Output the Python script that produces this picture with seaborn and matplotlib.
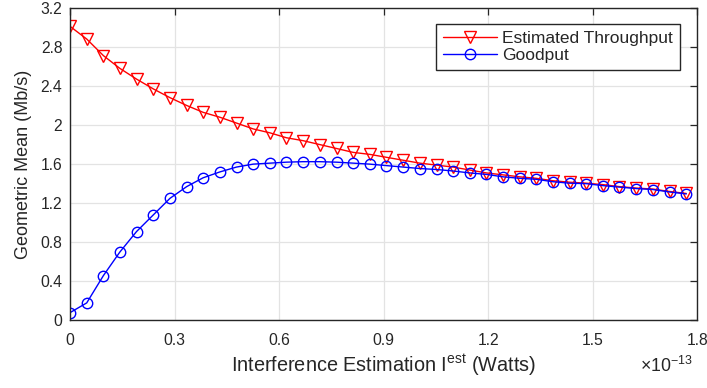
import numpy as np
import pandas as pd
import matplotlib
matplotlib.use("Agg")
import matplotlib.pyplot as plt
import seaborn as sns
from matplotlib.ticker import FuncFormatter

# Interference estimation (units of 1e-13 W)
x_vals = [0.000, 0.048, 0.096, 0.143, 0.191, 0.239, 0.287, 0.335, 0.382, 0.430,
          0.478, 0.526, 0.574, 0.621, 0.669, 0.717, 0.765, 0.813, 0.860, 0.908,
          0.956, 1.004, 1.052, 1.099, 1.147, 1.195, 1.243, 1.291, 1.338, 1.386,
          1.434, 1.482, 1.530, 1.577, 1.625, 1.673, 1.721, 1.769]
est_throughput = [3.01, 2.88, 2.71, 2.58, 2.47, 2.37, 2.28, 2.20, 2.13, 2.08,
                  2.02, 1.96, 1.92, 1.87, 1.84, 1.80, 1.76, 1.72, 1.70, 1.67,
                  1.64, 1.61, 1.59, 1.57, 1.54, 1.51, 1.49, 1.47, 1.455, 1.43,
                  1.415, 1.405, 1.39, 1.37, 1.355, 1.345, 1.32, 1.30]
goodput = [0.08, 0.18, 0.46, 0.70, 0.91, 1.08, 1.25, 1.37, 1.46, 1.52,
           1.57, 1.60, 1.61, 1.62, 1.625, 1.625, 1.62, 1.61, 1.60, 1.585,
           1.57, 1.555, 1.545, 1.53, 1.51, 1.495, 1.47, 1.455, 1.445, 1.42,
           1.405, 1.40, 1.38, 1.365, 1.35, 1.34, 1.315, 1.295]
x_ticks = [0, 0.3, 0.6, 0.9, 1.2, 1.5, 1.8]
y_ticks = [0, 0.4, 0.8, 1.2, 1.6, 2.0, 2.4, 2.8, 3.2]

sns.set_style("white")
plt.rcParams['font.family'] = ['Liberation Sans', 'DejaVu Sans']
plt.rcParams['mathtext.fontset'] = 'custom'
plt.rcParams['mathtext.rm'] = 'Liberation Sans'
plt.rcParams['mathtext.it'] = 'Liberation Sans'

fig = plt.figure(figsize=(7.07, 3.88), dpi=100)
ax = fig.add_axes([0.099, 0.174, 0.887, 0.806])

df = pd.DataFrame({"x": x_vals, "est": est_throughput, "good": goodput})

sns.lineplot(data=df, x="x", y="est", ax=ax, color="#ff0000", lw=1.0,
             marker="v", markersize=9, markerfacecolor="none",
             markeredgecolor="#ff0000", markeredgewidth=1.0,
             label="Estimated Throughput")
sns.lineplot(data=df, x="x", y="good", ax=ax, color="#0000ff", lw=1.0,
             marker="o", markersize=7.5, markerfacecolor="none",
             markeredgecolor="#0000ff", markeredgewidth=1.0,
             label="Goodput")
for ln in ax.lines:
    ln.set_markerfacecolor("none")

ax.set_xlim(0, 1.8)
ax.set_ylim(0, 3.2)
ax.set_xticks(x_ticks)
ax.set_yticks(y_ticks)
ax.xaxis.set_major_formatter(FuncFormatter(lambda v, p: "%g" % round(v, 2)))
ax.yaxis.set_major_formatter(FuncFormatter(lambda v, p: "%g" % round(v, 2)))
ax.grid(True, color="#e3e3e3", lw=0.9)
ax.set_axisbelow(True)
for s in ax.spines.values():
    s.set_color("#262626")
    s.set_linewidth(1.0)
    s.set_visible(True)
ax.tick_params(direction="in", length=5, width=0.9, color="#262626",
               top=True, right=True, labelsize=11.3, labelcolor="#262626")
ax.tick_params(axis="x", pad=9)
ax.tick_params(axis="y", pad=5.5)

ax.set_xlabel("Interference Estimation I$^{\\rm est}$ (Watts)", fontsize=14.3,
              color="#262626", labelpad=3)
ax.set_ylabel("Geometric Mean (Mb/s)", fontsize=13, color="#262626", labelpad=6)
fig.text(0.905, 0.058, "$\\times$10$^{-13}$", fontsize=12.8, color="#262626",
         ha="left", va="center")

leg = ax.legend(loc="upper right", bbox_to_anchor=(0.973, 0.949), borderaxespad=0,
                fancybox=False, framealpha=1, edgecolor="#262626", fontsize=12.5,
                handlelength=3.15, handletextpad=0.3, borderpad=0.4, labelspacing=0.1)
leg.get_frame().set_linewidth(1.0)

fig.savefig("out.png", dpi=100)
